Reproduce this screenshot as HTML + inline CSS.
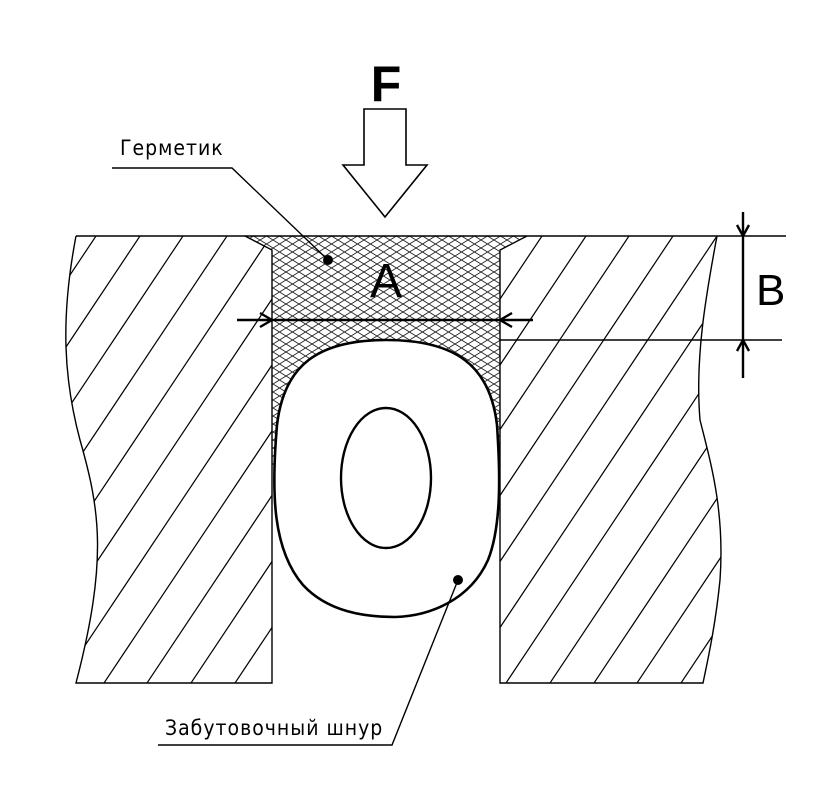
<!DOCTYPE html>
<html><head><meta charset="utf-8"><style>html,body{margin:0;padding:0;background:#fff}svg{display:block}</style></head>
<body>
<svg width="831" height="800" viewBox="0 0 831 800" xmlns="http://www.w3.org/2000/svg">
<defs>
<pattern id="xh" patternUnits="userSpaceOnUse" width="13" height="8">
<path d="M0,0 L13,8 M0,8 L13,0" stroke="#222" stroke-width="0.9" fill="none"/>
</pattern>
<clipPath id="cl"><path d="M76,236 L245,236 L272,250 L272,683 L76,683 C108,560 100,510 80,440 C64,380 60,320 76,236Z"/></clipPath>
<clipPath id="cr"><path d="M527,236 L717,236 C705,300 695,360 700,420 C710,460 725,510 720,580 C716,620 710,650 703,683 L500,683 L500,250Z"/></clipPath>
</defs>
<path d="M245,236 L527,236 L500,250 L500,470 L272,470 L272,250Z" fill="url(#xh)"/>
<g clip-path="url(#cl)" stroke="#000" stroke-width="1.2">
<line x1="96" y1="236" x2="-204" y2="686"/><line x1="140" y1="236" x2="-160" y2="686"/><line x1="183" y1="236" x2="-117" y2="686"/><line x1="227" y1="236" x2="-73" y2="686"/><line x1="271" y1="236" x2="-29" y2="686"/><line x1="314" y1="236" x2="14" y2="686"/><line x1="358" y1="236" x2="58" y2="686"/><line x1="402" y1="236" x2="102" y2="686"/><line x1="445" y1="236" x2="145" y2="686"/><line x1="489" y1="236" x2="189" y2="686"/><line x1="533" y1="236" x2="233" y2="686"/>
</g>
<g clip-path="url(#cr)" stroke="#000" stroke-width="1.2">
<line x1="542" y1="236" x2="242" y2="686"/><line x1="586" y1="236" x2="286" y2="686"/><line x1="629" y1="236" x2="329" y2="686"/><line x1="673" y1="236" x2="373" y2="686"/><line x1="717" y1="236" x2="417" y2="686"/><line x1="761" y1="236" x2="461" y2="686"/><line x1="804" y1="236" x2="504" y2="686"/><line x1="848" y1="236" x2="548" y2="686"/><line x1="892" y1="236" x2="592" y2="686"/><line x1="935" y1="236" x2="635" y2="686"/><line x1="979" y1="236" x2="679" y2="686"/><line x1="1022" y1="236" x2="722" y2="686"/>
</g>
<g stroke="#000" fill="none" stroke-width="1.4">
<line x1="76" y1="236" x2="786" y2="236"/>
<path d="M245,236 L272,250 L272,683 L76,683 C108,560 100,510 80,440 C64,380 60,320 76,236"/>
<path d="M527,236 L500,250 L500,683 L703,683 C710,650 716,620 720,580 C725,510 710,460 700,420 C695,360 705,300 717,236"/>
<line x1="500" y1="340" x2="782" y2="340"/>
</g>
<path d="M386,340 C318,340 284,365 277,425 C271,495 273,550 303,585 C328,612 365,617 395,617 C430,616 470,600 488,560 C502,525 500,470 497,425 C490,365 455,340 386,340Z" fill="#fff" stroke="#000" stroke-width="2.6"/>
<ellipse cx="386" cy="478" rx="45" ry="70" fill="none" stroke="#000" stroke-width="2.4"/>
<g stroke="#000" stroke-width="2.4" fill="none">
<line x1="237" y1="320" x2="533" y2="320"/>
<path d="M260,313 L272,320 L260,327"/><path d="M512,313 L500,320 L512,327"/>
<line x1="743" y1="212" x2="743" y2="378"/>
<path d="M737,225 L743,236 L749,225"/><path d="M737,351 L743,340 L749,351"/>
</g>
<text x="386" y="297" font-family="Liberation Sans, sans-serif" font-size="48" text-anchor="middle">A</text>
<text x="756" y="305" font-family="Liberation Sans, sans-serif" font-size="44">B</text>
<text x="386" y="101" font-family="Liberation Sans, sans-serif" font-size="50" font-weight="bold" text-anchor="middle">F</text>
<path d="M364,109 L406,109 L406,165 L427,165 L385,217 L343,165 L364,165Z" fill="#fff" stroke="#000" stroke-width="1.6"/>
<g stroke="#000" stroke-width="1.4" fill="none">
<path d="M112,168 L232,168 L328,260"/>
<path d="M158,745 L392,745 L458,580"/>
</g>
<circle cx="328" cy="260" r="5" fill="#000"/>
<circle cx="458" cy="580" r="5" fill="#000"/>
<text x="120" y="155" font-family="DejaVu Sans Condensed, Liberation Sans, sans-serif" font-size="21" letter-spacing="1">Герметик</text>
<text x="165" y="735" font-family="DejaVu Sans Condensed, Liberation Sans, sans-serif" font-size="21" letter-spacing="1">Забутовочный шнур</text>
</svg>
</body></html>
